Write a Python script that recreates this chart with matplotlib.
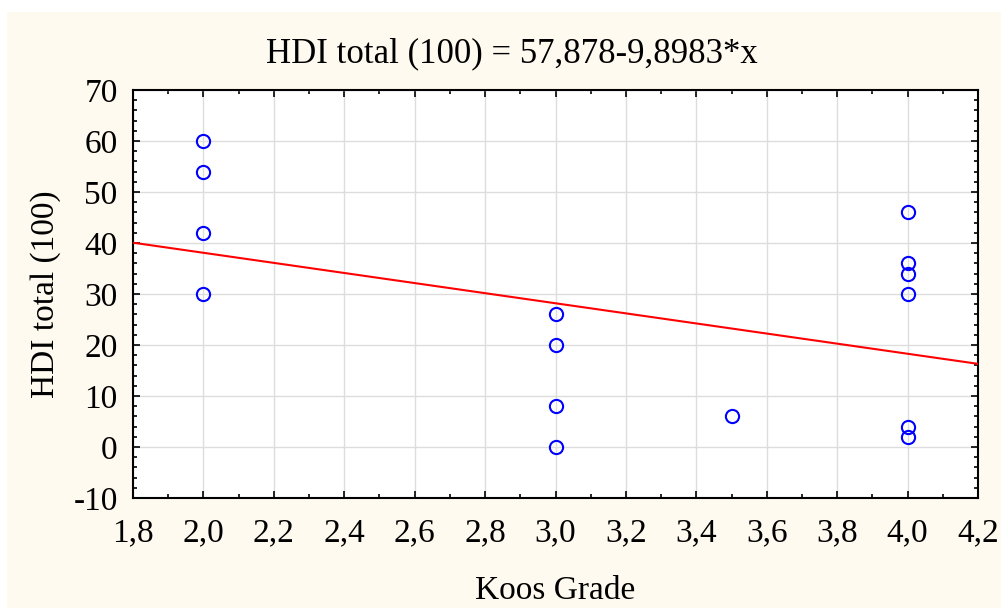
import matplotlib.pyplot as plt
from matplotlib.patches import Rectangle
from matplotlib.ticker import MultipleLocator, FuncFormatter
import numpy as np

# Dane
koos_grade = [2.0, 2.0, 2.0, 2.0, 3.0, 3.0, 3.0, 3.0, 3.5, 4.0, 4.0, 4.0, 4.0, 4.0, 4.0]
hdi_total = [60, 54, 42, 30, 26, 20, 8, 0, 6, 46, 36, 34, 30, 4, 2]
intercept = 57.878
slope = -9.8983

plt.rcParams['font.family'] = ['Liberation Serif', 'DejaVu Serif']

fig = plt.figure(figsize=(10.01, 6.08), dpi=100, facecolor='white')
fig.patches.append(Rectangle((7 / 1001, 0), 1, 1 - 12 / 608, transform=fig.transFigure,
                             facecolor='#fefaf0', edgecolor='none', zorder=-10))
ax = fig.add_axes([133 / 1001, 1 - 498 / 608, (978 - 133) / 1001, (498 - 90) / 608])
ax.set_facecolor('white')

# Linia regresji
xl = np.array([1.8, 4.2])
ax.plot(xl, intercept + slope * xl, color='red', lw=1.5, zorder=3)
ax.plot(koos_grade, hdi_total, 'o', mfc='none', mec='#0000ff', ms=9.5, mew=1.5, zorder=4)

ax.set_xlim(1.8, 4.2)
ax.set_ylim(-10, 70)
ax.xaxis.set_major_locator(MultipleLocator(0.2))
ax.xaxis.set_minor_locator(MultipleLocator(0.1))
ax.yaxis.set_major_locator(MultipleLocator(10))
ax.yaxis.set_minor_locator(MultipleLocator(2))
ax.xaxis.set_major_formatter(FuncFormatter(lambda v, p: f'{v:.1f}'.replace('.', ',')))
ax.yaxis.set_major_formatter(FuncFormatter(lambda v, p: f'{v:.0f}'))
ax.tick_params(which='both', direction='in', top=True, right=True, width=1.2,
               labelsize=24)
ax.tick_params(axis='y', pad=11)
ax.tick_params(axis='x', pad=14)
ax.tick_params(which='major', length=5)
ax.tick_params(which='minor', length=3)
ax.grid(True, which='major', color='#dddddd', lw=1)
ax.set_axisbelow(True)
for s in ax.spines.values():
    s.set_linewidth(1.5)

ax.set_xlabel('Koos Grade', fontsize=24, labelpad=20)
ax.set_ylabel('HDI total (100)', fontsize=24, labelpad=9)
fig.text(512 / 1001, 1 - 62 / 608, 'HDI total (100) = 57,878-9,8983*x', fontsize=25,
         ha='center', va='baseline')

fig.savefig('out.png', dpi=100, facecolor=fig.get_facecolor())
